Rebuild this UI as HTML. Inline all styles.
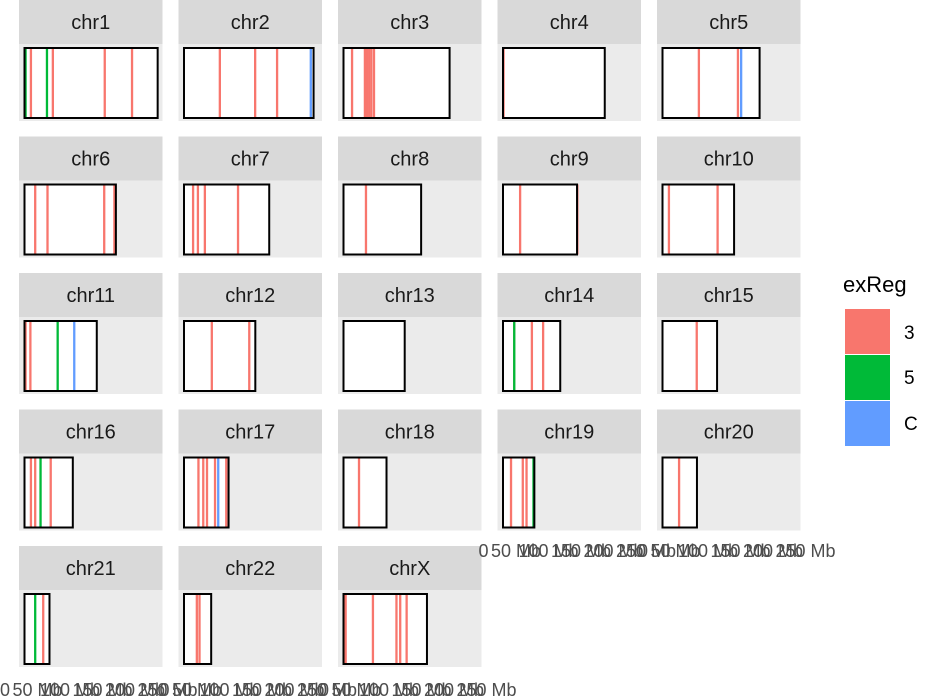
<!DOCTYPE html>
<html><head><meta charset="utf-8"><style>
html,body{margin:0;padding:0;background:#fff}
svg{display:block;font-family:"Liberation Sans",Arial,sans-serif}
</style></head><body>
<svg id="chart" width="927" height="697" viewBox="0 0 927 697" xmlns="http://www.w3.org/2000/svg">
<g id="panels"></g>
<g id="legend">
  <text x="843" y="292" font-size="22" fill="#000">exReg</text>
  <rect x="845" y="309" width="45" height="45" fill="#F8766D"/>
  <rect x="845" y="355" width="45" height="45" fill="#00BA38"/>
  <rect x="845" y="401" width="45" height="45" fill="#619CFF"/>
  <text x="904" y="339" font-size="19" fill="#000">3</text>
  <text x="904" y="384" font-size="19" fill="#000">5</text>
  <text x="904" y="430" font-size="19" fill="#000">C</text>
</g>
</svg>
<script>
const chromNames = ["chr1","chr2","chr3","chr4","chr5","chr6","chr7","chr8","chr9","chr10","chr11","chr12","chr13","chr14","chr15","chr16","chr17","chr18","chr19","chr20","chr21","chr22","chrX"];
const chromLengths = [248.9,242.2,198.3,190.2,181.5,170.8,159.3,145.1,138.4,133.8,135.1,133.3,114.4,107.0,102.0,90.3,83.3,80.4,58.6,64.4,46.7,50.8,156.0];
const regionChrom = ["chr1","chr1","chr1","chr1","chr1","chr1","chr2","chr2","chr2","chr2","chr3","chr3","chr3","chr3","chr3","chr3","chr4","chr5","chr5","chr5","chr6","chr6","chr6","chr6","chr7","chr7","chr7","chr7","chr8","chr9","chr9","chr10","chr10","chr11","chr11","chr11","chr11","chr12","chr12","chr14","chr14","chr14","chr14","chr15","chr16","chr16","chr16","chr16","chr17","chr17","chr17","chr17","chr17","chr17","chr18","chr19","chr19","chr19","chr19","chr20","chr21","chr21","chr22","chr22","chrX","chrX","chrX","chrX","chrX"];
const regionPos = [2,12,42,53,150,201,67,133,174,237,16,40,44,48,52,57,1,68,141,147,20,43,149,168,17,26,39,101,42,32,139,12,103,2,11,62,93,52,122,21,21,54,75,64,12,20,30,49,27,36,43,58,64,79,29,15,37,44,57,31,20,35,24,29,4,55,99,106,118];
const regionType = ["5","3","5","3","3","3","3","3","3","C","3","3","3","3","3","3","3","3","3","C","3","3","3","3","3","3","3","3","3","3","3","3","3","3","3","5","C","3","3","3","5","3","3","3","3","3","5","3","3","3","3","3","C","3","3","3","3","3","5","3","5","3","3","3","3","3","3","3","3"];
const tickValues = [0,50,100,150,200,250];
const tickLabels = ["0","50 Mb","100 Mb","150 Mb","200 Mb","250 Mb"];

const NS="http://www.w3.org/2000/svg";
const colors={"3":"#F8766D","5":"#00BA38","C":"#619CFF"};
const colStarts=[19,178.5,338,497.5,657], panelW=143.5;
const rowTops=[0,136.5,273,409.5,546];
const SCALE=0.535;
function xScale(col,mb){return colStarts[col]+5.5+mb*SCALE;}
function labelX(col,v){return colStarts[col]-14+v*0.65;}
function mk(tag,attrs,parent){const e=document.createElementNS(NS,tag);for(const k in attrs)e.setAttribute(k,attrs[k]);parent.appendChild(e);return e;}
const root=document.getElementById('panels');
chromNames.forEach((name,i)=>{
  const col=i%5,row=Math.floor(i/5),x=colStarts[col],y=rowTops[row];
  const g=mk('g',{},root);
  
  
  const st=mk('rect',{x:x,y:y,width:panelW,height:44,fill:'#d9d9d9'},g);
  
  
  const t=mk('text',{x:x+panelW/2,y:y+29,'font-size':20,fill:'#1a1a1a','text-anchor':'middle'},g);
  t.textContent=name;
  
  
  const bg=mk('rect',{x:x,y:y+44,width:panelW,height:77,fill:'#ebebeb'},g);
  
  
  const x0=xScale(col,0),x1=xScale(col,chromLengths[i]);
  const cr=mk('rect',{x:x0,y:y+48,width:x1-x0,height:70,fill:'#fff'},g);
  
  
  regionChrom.forEach((c,j)=>{
    if(c!==name)return;
    const lx=xScale(col,regionPos[j]);
    const ln=mk('line',{x1:lx,x2:lx,y1:y+48,y2:y+118,stroke:colors[regionType[j]],'stroke-width':2.3},g);
    
    
  });
  const bd=mk('rect',{x:x0,y:y+48,width:x1-x0,height:70,fill:'none',stroke:'#000','stroke-width':2},g);
  
  
});
[[3,557],[4,557],[0,696],[1,696],[2,696]].forEach(([col,ty])=>{
  const g=mk('g',{},root);
  
  
  tickValues.forEach((v,k)=>{
    const t=mk('text',{x:labelX(col,v),y:ty,'font-size':18,fill:'#4d4d4d','text-anchor':'middle'},g);
    t.textContent=tickLabels[k];
    
    
  });
});
</script>
</body></html>
